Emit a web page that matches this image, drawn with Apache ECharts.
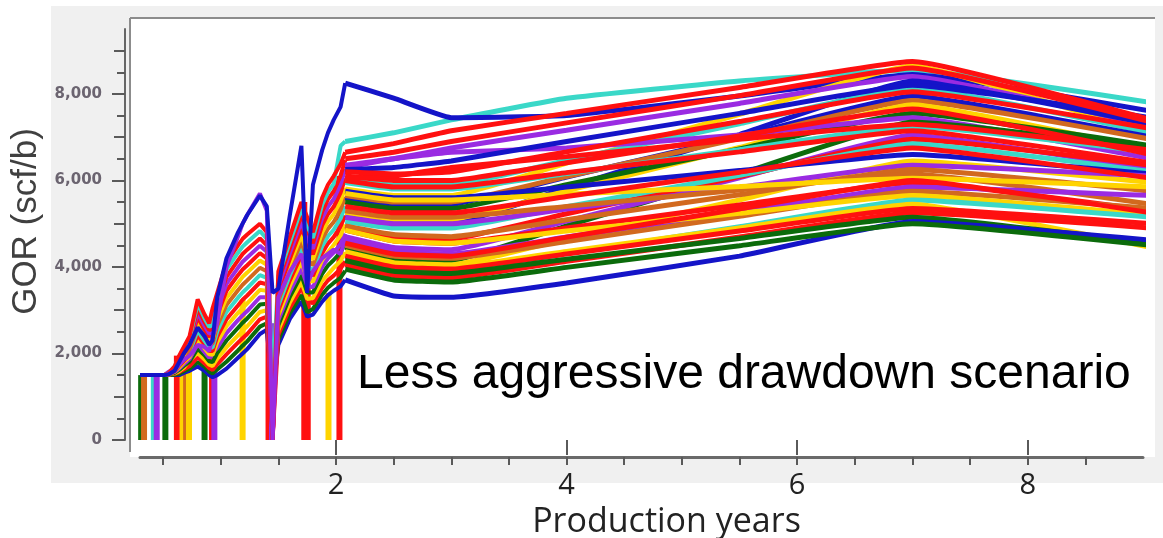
<!DOCTYPE html>
<html><head><meta charset="utf-8">
<script src="https://cdn.jsdelivr.net/npm/echarts@6/dist/echarts.min.js"></script>
<style>html,body{margin:0;padding:0;background:#fff}#c{width:1163px;height:538px}</style>
</head><body><div id="c"></div>
<script>
const PALETTE = {B:'#1414c8', R:'#ff1010', C:'#3ad8c8', P:'#9a2be2', G:'#0b6b0b', Y:'#ffd400', O:'#d2691e'};

const xTickValues = [2, 4, 6, 8];
const xTickLabels = ['2', '4', '6', '8'];
const xMinorTickValues = [0.5, 1, 1.5, 2, 2.5, 3, 3.5, 4, 4.5, 5, 5.5, 6, 6.5, 7, 7.5, 8, 8.5];
const yTickValues = [0, 2000, 4000, 6000, 8000];
const yTickLabels = ['0', '2,000', '4,000', '6,000', '8,000'];
const yMidTickValues = [1000, 3000, 5000, 7000, 9000];
const yMinorTickValues = [500, 1500, 2500, 3500, 4500, 5500, 6500, 7500, 8500];

// history (production period)
const histYears = [0.30,0.33,0.37,0.40,0.44,0.47,0.51,0.55,0.60,0.64,0.68,0.73,0.80,0.86,0.90,0.93,0.97,1.05,1.15,1.19,1.23,1.34,1.40,1.45,1.50,1.60,1.70,1.75,1.80,1.88,1.93,1.98,2.04,2.08];
const histColors = ['B','G','R','Y','G','P','Y','R','C','O','Y','R','P','R','C','R','P','B'];
const histValues = [
 [1500,1500,1500,1500,1500,1500,1500,1500,1500,1500,1550,1600,1700,1600,1500,1450,1500,1650,1900,2000,2100,2450,2550,1000,2200,2800,3200,2850,2900,3200,3350,3450,3550,3700],
 [1500,1500,1500,1500,1500,1500,1500,1500,1510,1530,1590,1650,1800,1700,1580,1540,1630,1810,2070,2180,2280,2620,2700,900,2310,2930,3350,2950,3030,3360,3520,3630,3750,3910],
 [1500,1500,1500,1500,1500,1500,1500,1510,1530,1570,1630,1710,1910,1770,1660,1620,1750,1980,2250,2350,2450,2790,2850,0,2430,3050,3510,3300,3150,3520,3690,3800,3960,4130],
 [1500,1500,1500,1500,1500,1500,1500,1510,1540,1590,1670,1840,2010,1860,1740,1710,1880,2140,2420,2530,2630,2960,3000,1100,2540,3180,3660,3260,3280,3680,3830,3980,4140,4340],
 [1500,1500,1500,1500,1500,1500,1500,1520,1550,1620,1710,1810,2110,1960,1820,1800,2010,2300,2590,2710,2810,3130,3150,800,2650,3310,3810,3410,3410,3840,4030,4160,4340,4550],
 [1500,1500,1500,1500,1500,1500,1500,1520,1570,1650,1750,1870,2220,2030,1900,2010,2130,2470,2770,2880,2980,3300,3300,0,2770,3430,3970,3570,3530,4000,4200,4330,4530,4770],
 [1500,1500,1500,1500,1500,1500,1500,1520,1580,1680,1800,1920,2320,2120,1980,1970,2260,2630,2940,3050,3160,3470,3450,1000,2880,3560,4120,3720,3660,4160,4340,4510,4730,4980],
 [1500,1500,1500,1500,1500,1500,1500,1520,1590,1710,1830,1970,2420,2210,2060,2060,2390,2790,3110,3240,3340,3640,3600,0,2990,3690,4270,4030,3790,4320,4540,4690,4940,5190],
 [1500,1500,1500,1500,1500,1500,1500,1530,1610,1740,1870,2030,2530,2290,2140,2140,2510,2960,3290,3410,3510,3810,3750,1200,3110,3810,4430,4030,3910,4480,4710,4860,5120,5410],
 [1500,1500,1500,1500,1500,1500,1500,1530,1620,1770,1910,2080,2630,2380,2220,2230,2640,3120,3460,3590,3690,3980,3900,900,3220,3940,4580,4180,4040,4640,4880,5040,5320,5620],
 [1500,1500,1500,1500,1500,1500,1500,1530,1630,1800,1950,2340,2730,2470,2300,2320,2770,3280,3630,3770,3870,4150,4050,1000,3330,4070,4730,4330,4170,4800,5050,5220,5520,5830],
 [1500,1500,1500,1500,1500,1500,1500,1540,1650,1820,1990,2190,2840,2550,2380,2630,2890,3450,3810,3940,4040,4320,4200,0,3450,4190,4890,4590,4290,4960,5220,5390,5720,6050],
 [1500,1500,1500,1500,1500,1500,1500,1580,1660,1860,2030,2240,2940,2640,2460,2490,3020,3610,3980,4120,4220,4490,4350,0,3560,4320,5040,4640,4420,5120,5390,5570,5910,6260],
 [1500,1500,1500,1500,1500,1500,1500,1540,1670,1890,2070,2290,3040,2730,2540,2580,3150,3770,4150,4300,4400,4660,4500,0,3670,4450,5190,4870,4550,5280,5560,5750,6110,6470],
 [1500,1500,1500,1500,1500,1500,1500,1550,1690,1920,2110,2350,3150,2810,2620,2660,3270,3940,4330,4470,4570,4830,4650,1300,3790,4570,5350,4950,4670,5440,5730,5920,6800,6900],
 [1500,1500,1500,1500,1500,1500,1500,1550,1700,1950,2150,2400,3250,2900,2700,3050,3400,4100,4500,4650,4750,5000,4800,0,3900,4700,5500,5150,4800,5600,5900,6100,6380,6650],
 [1500,1500,1500,1500,1500,1500,1500,1530,1600,1750,1850,1950,2200,2150,2050,2380,2700,4000,4700,5000,5200,5700,5300,0,3300,3900,4300,3600,3900,4200,4300,4400,4300,4650],
 [1500,1500,1500,1500,1500,1500,1500,1520,1600,1800,2000,2200,2600,2400,2200,2300,3300,4200,4800,5000,5200,5650,5400,3400,3500,5200,6800,3400,5900,6700,7100,7400,7700,8250]
];

// shut-ins: GOR drops to zero
const shutInYears  = [0.31, 0.335, 0.42, 0.445, 0.52, 0.62, 0.67, 0.70, 0.725, 0.86, 0.925, 0.945, 1.19, 1.415, 1.445, 1.725, 1.755, 1.935, 2.03];
const shutInLevels = [1500, 1500, 1500, 1500, 1500, 1950, 1750, 1650, 1850, 1950, 2700, 2200, 3250, 3800, 2700, 5500, 4900, 3400, 6100];
const shutInColors = ['G','O','C','P','G','R','Y','O','Y','G','R','P','Y','R','P','R','R','Y','R'];

// forecast period
const forecastYears = [2.08, 2.5, 3.0, 4.0, 5.5, 7.0, 9.07];
const forecastColors = ['C','B','Y','P','B','C','B','O','Y','G','P','G','C','P','R','C','B','Y','P','O','O','Y','R','P','O','Y','C','Y','R','R','G','B','G','R','R','R','B','R','R','R','R','R'];
const forecastValues = [
 [6900,7100,7400,7900,8300,8550,7800],
 [8250,7900,7450,7500,7950,8450,7600],
 [5800,5650,5650,6400,7530,8650,7050],
 [6350,6500,6750,7160,7780,8400,7250],
 [5150,5000,5000,5830,7060,8300,7300],
 [6000,5900,5900,6460,7310,8150,7100],
 [5600,5450,5450,6080,7010,7950,7000],
 [5650,5500,5500,6090,6970,7850,6950],
 [5250,5100,5100,5760,6760,7750,6700],
 [5500,5350,5350,5900,6730,7550,6800],
 [6300,6500,6650,6750,7050,7450,6500],
 [4450,4200,4150,4950,6150,7350,6750],
 [5950,5800,5800,6160,6710,7250,6650],
 [4700,4450,4400,5060,6060,7050,6250],
 [4950,4700,4650,5230,6090,6950,6350],
 [5050,4900,4900,5390,6120,6850,6200],
 [5750,5600,5600,5850,6230,6600,6150],
 [4350,4100,4050,4650,5550,6450,5950],
 [5150,5000,5000,5340,5840,6350,6100],
 [4950,4750,4700,5090,5670,6250,5750],
 [5300,5150,5150,5400,5780,6150,5450],
 [5700,5550,5550,5680,5860,6050,5850],
 [4850,4600,4550,4900,5430,5950,5300],
 [4600,4350,4300,4690,5270,5850,5650],
 [4500,4250,4200,4590,5170,5750,5350],
 [4850,4600,4550,4830,5240,5650,5200],
 [4200,3950,3900,4310,4930,5550,5150],
 [4300,4050,4000,4360,4900,5450,4450],
 [4250,4000,3950,4300,4830,5350,5000],
 [4050,3800,3750,4130,4690,5250,4900],
 [4150,3900,3850,4180,4660,5150,4550],
 [3700,3330,3300,3630,4250,5050,4620],
 [3950,3700,3650,3990,4490,5000,4500],
 [4550,4300,4250,4690,5340,6000,5250],
 [5400,5250,5250,5630,6190,6750,6050],
 [6000,5850,5850,6180,6660,7150,6400],
 [6250,6300,6450,6900,7550,8200,7450],
 [6100,6000,6000,6410,7030,7650,6600],
 [6050,6100,6300,6550,6950,7300,6700],
 [6200,6150,6200,6660,7360,8050,7200],
 [6500,6650,6900,7330,7960,8600,7350],
 [6650,6850,7150,7550,8150,8750,7400]
];

const series = [];
histValues.forEach((vals, i) => {
  const col = PALETTE[histColors[i]];
  series.push({
    type: 'line', data: histYears.map((x, j) => [x, vals[j]]),
    showSymbol: false, symbol: 'none', animation: false, silent: true, clip: false,
    lineStyle: { color: col, width: 4 }, itemStyle: { color: col }
  });
});
series.push({
  type: 'bar', barWidth: 6, animation: false, silent: true,
  data: shutInYears.map((x, i) => ({ value: [x, shutInLevels[i]], itemStyle: { color: PALETTE[shutInColors[i]] } }))
});
forecastValues.forEach((vals, i) => {
  const col = PALETTE[forecastColors[i]];
  series.push({
    type: 'line', data: forecastYears.map((x, j) => [x, vals[j]]),
    showSymbol: false, symbol: 'none', animation: false, silent: true, clip: false,
    smooth: 0.12,
    lineStyle: { color: col, width: 5 }, itemStyle: { color: col }
  });
});

const tickStyle = { color: '#5a5a5a', width: 2 };
const chart = echarts.init(document.getElementById('c'), null, { renderer: 'canvas' });
chart.setOption({
  backgroundColor: '#ffffff',
  animation: false,
  grid: { left: 140, right: 20, top: 29, bottom: 98, containLabel: false, outerBoundsMode: 'none' },
  xAxis: [
    {
      type: 'value', min: 0.3, max: 9.0, position: 'bottom', offset: 17,
      axisLine: { show: true, onZero: false, lineStyle: { color: '#6a6a6a', width: 3 } },
      axisTick: { show: true, customValues: xMinorTickValues, length: 8, lineStyle: tickStyle },
      axisLabel: { show: true, customValues: xTickValues, margin: 14, color: '#222', fontSize: 29, fontFamily: 'Open Sans',
        formatter: v => xTickLabels[xTickValues.indexOf(v)] },
      splitLine: { show: false },
      name: 'Production years', nameLocation: 'middle', nameGap: 43,
      nameTextStyle: { fontSize: 34, fontFamily: 'Open Sans', color: '#222', padding: [0, 0, 0, 50] }
    },
    {
      type: 'value', min: 0.3, max: 9.0, position: 'bottom', offset: 17,
      axisLine: { show: false },
      axisTick: { show: true, customValues: xTickValues, length: 15, lineStyle: tickStyle },
      axisLabel: { show: false }, splitLine: { show: false }
    }
  ],
  yAxis: [
    {
      type: 'value', min: 0, max: 9500, position: 'left', offset: 15,
      axisLine: { show: true, onZero: false, lineStyle: { color: '#666', width: 2 } },
      axisTick: { show: true, customValues: yTickValues, length: 13, lineStyle: tickStyle },
      axisLabel: { show: true, customValues: yTickValues, margin: 23, color: '#6b6470', fontSize: 15, fontWeight: 'bold',
        fontFamily: 'DejaVu Sans', formatter: v => yTickLabels[yTickValues.indexOf(v)] },
      splitLine: { show: false },
      name: 'GOR (scf/b)', nameLocation: 'middle', nameGap: 78,
      nameTextStyle: { fontSize: 35, fontFamily: 'Liberation Sans', color: '#404040', padding: [0, 0, 0, 26] }
    },
    {
      type: 'value', min: 0, max: 9500, position: 'left', offset: 15,
      axisLine: { show: false },
      axisTick: { show: true, customValues: yMidTickValues, length: 11, lineStyle: tickStyle },
      axisLabel: { show: false }, splitLine: { show: false }
    },
    {
      type: 'value', min: 0, max: 9500, position: 'left', offset: 15,
      axisLine: { show: false },
      axisTick: { show: true, customValues: yMinorTickValues, length: 8, lineStyle: tickStyle },
      axisLabel: { show: false }, splitLine: { show: false }
    }
  ],
  graphic: [
    { type: 'rect', z: -10, silent: true, shape: { x: 51, y: 6, width: 1112, height: 477 }, style: { fill: '#f0f0f0' } },
    { type: 'rect', z: -9, silent: true, shape: { x: 130, y: 18, width: 1025, height: 439 }, style: { fill: '#ffffff' } },
    { type: 'line', z: -8, silent: true, shape: { x1: 130, y1: 18, x2: 1155, y2: 18 }, style: { stroke: '#8c8c8c', lineWidth: 2 } },
    { type: 'line', z: -8, silent: true, shape: { x1: 130, y1: 18, x2: 130, y2: 452 }, style: { stroke: '#8c8c8c', lineWidth: 2 } },
    { type: 'text', z: 100, silent: true,
      style: { text: 'Less aggressive drawdown scenario', x: 357, y: 375, font: '48px "Liberation Sans", Arial, sans-serif',
        fill: '#000', align: 'left', verticalAlign: 'middle', textVerticalAlign: 'middle' } }
  ],
  series: series
});
</script></body></html>
